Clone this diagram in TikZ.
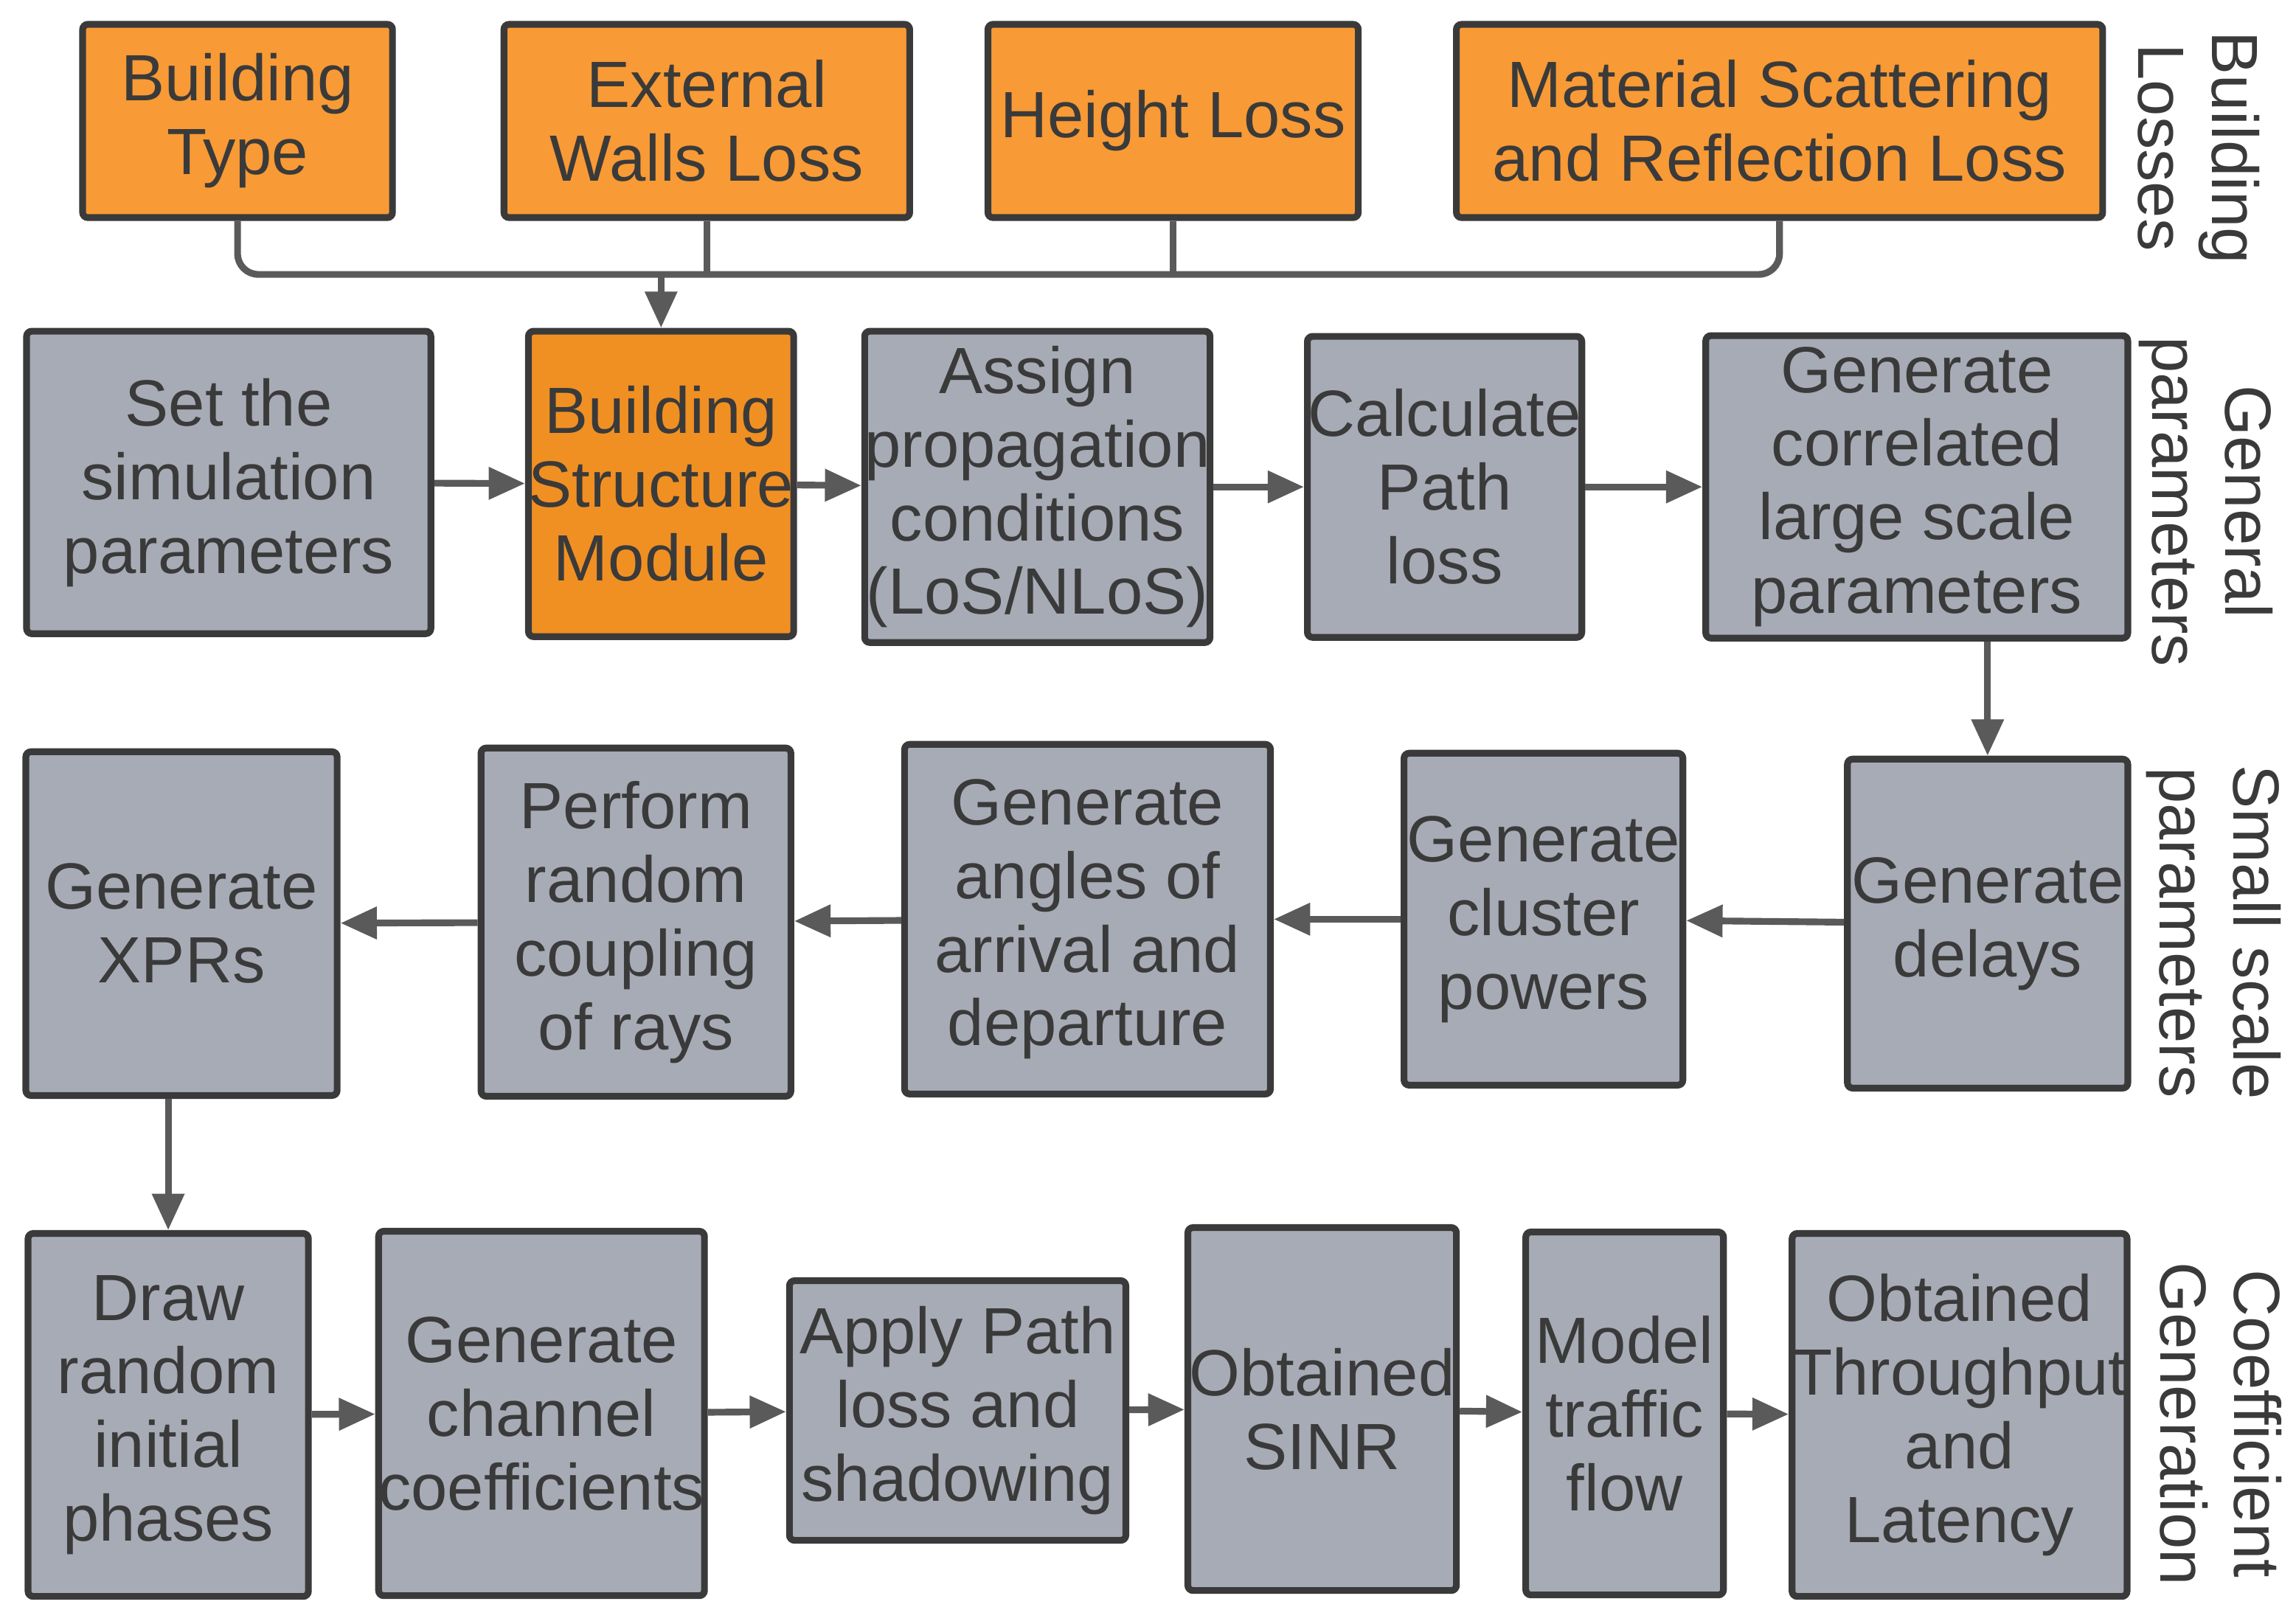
\documentclass[tikz,border=0pt]{standalone}
\usepackage{fontspec}
\setmainfont{Liberation Sans}
\usetikzlibrary{arrows.meta}
\definecolor{boxgray}{HTML}{A6ABB5}
\definecolor{boxorange}{HTML}{F89A35}
\definecolor{modorange}{HTML}{F09023}
\definecolor{edgegray}{HTML}{3A3A3A}
\definecolor{arrgray}{HTML}{5A5A5A}
\begin{document}
\begin{tikzpicture}[x=0.01cm, y=-0.01cm,
    every node/.style={font=\fontsize{12.6}{14.2}\selectfont, text=edgegray, align=center, inner sep=0pt},
    box/.style={draw=edgegray, line width=1.3pt, fill=boxgray, rounded corners=1pt},
    sz/.style 2 args={minimum width=#1*0.01cm, minimum height=#2*0.01cm},
    obox/.style={box, fill=boxorange},
    side/.style={rotate=-90},
    arr/.style={draw=arrgray, line width=1.3pt, -{Triangle[length=7pt,width=6pt]}}]
  \useasboundingbox (0,0) rectangle (1556,1089);

  % building losses
  \node[obox, sz={210}{131}] at (161,82)  (btype) {Building\\Type};
  \node[obox, sz={275}{131}] at (479,82)  (walls) {External\\Walls Loss};
  \node[obox, sz={251}{131}] at (795,82)  (height) {Height Loss};
  \node[obox, sz={438}{131}] at (1206,82) (mat) {Material Scattering\\and Reflection Loss};
  \node[side] at (1490,100) (lbl1) {Building\\Losses};

  % general parameters
  \node[box, sz={274}{205}] at (155,327)  (sim) {Set the\\simulation\\parameters};
  \node[box, fill=modorange, sz={176}{207}] at (448,328) (bsm) {Building\\Structure\\Module};
  \node[box, sz={230}{211}] at (703,330)  (assign) {Assign\\propagation\\conditions\\(LoS/NLoS)};
  \node[box, sz={186}{204}] at (979,330)  (pl) {Calculate\\Path\\loss};
  \node[box, sz={286}{205}] at (1299,330) (lsp) {Generate\\correlated\\large scale\\parameters};
  \node[side] at (1495,340) (lbl2) {General\\parameters};

  % small scale parameters
  \node[box, sz={211}{233}] at (123,626)  (xpr) {Generate\\XPRs};
  \node[box, sz={210}{236}] at (431,625)  (coup) {Perform\\random\\coupling\\of rays};
  \node[box, sz={248}{237}] at (737,623)  (ang) {Generate\\angles of\\arrival and\\departure};
  \node[box, sz={189}{225}] at (1046,623) (pow) {Generate\\cluster\\powers};
  \node[box, sz={190}{223}] at (1347,626) (del) {Generate\\delays};
  \node[side] at (1500,632) (lbl3) {Small scale\\parameters};

  % coefficient generation
  \node[box, sz={190}{246}] at (114,959)  (phase) {Draw\\random\\initial\\phases};
  \node[box, sz={217}{247}] at (367,958)  (coef) {Generate\\channel\\coefficients};
  \node[box, sz={228}{176}] at (649,956)  (apply) {Apply Path\\loss and\\shadowing};
  \node[box, sz={182}{246}] at (896,955)  (sinr) {Obtained\\SINR};
  \node[box, sz={134}{246}] at (1101,958) (traf) {Model\\traffic\\flow};
  \node[box, sz={227}{246}] at (1328,959) (thr) {Obtained\\Throughput\\and\\Latency};
  \node[side] at (1505,965) (lbl4) {Coefficient\\Generation};

  % bus into the module
  \coordinate (bus) at (448,186);
  \draw[draw=arrgray, line width=1.3pt, rounded corners=4pt]
    (btype.south) |- (bus -| mat.south) -- (mat.south);
  \draw[draw=arrgray, line width=1.3pt] (walls.south) -- (walls.south |- bus);
  \draw[draw=arrgray, line width=1.3pt] (height.south) -- (height.south |- bus);
  \draw[arr] (bus) -- (bsm.north);

  % flow
  \draw[arr] (sim) -- (bsm);
  \draw[arr] (bsm) -- (assign);
  \draw[arr] (assign) -- (pl);
  \draw[arr] (pl) -- (lsp);
  \draw[arr] (lsp.south -| del.north) -- (del.north);
  \draw[arr] (del) -- (pow);
  \draw[arr] (pow) -- (ang);
  \draw[arr] (ang) -- (coup);
  \draw[arr] (coup) -- (xpr);
  \draw[arr] (phase.north |- xpr.south) -- (phase.north);
  \draw[arr] (phase) -- (coef);
  \draw[arr] (coef) -- (apply);
  \draw[arr] (apply) -- (sinr);
  \draw[arr] (sinr) -- (traf);
  \draw[arr] (traf) -- (thr);
\end{tikzpicture}
\end{document}
